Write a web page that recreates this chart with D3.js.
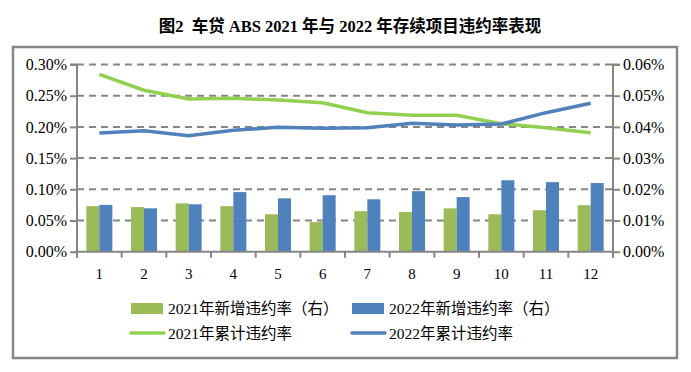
<!DOCTYPE html>
<html><head><meta charset="utf-8">
<script src="https://cdn.jsdelivr.net/npm/d3@7/dist/d3.min.js"></script>
<style>body{margin:0;background:#fff}</style>
</head><body>
<svg id="c" width="691" height="372"></svg>
<script>
const categories = ["1","2","3","4","5","6","7","8","9","10","11","12"];
// right axis (%): new default rate
const new2021 = [0.0146,0.0143,0.0155,0.0146,0.0120,0.0095,0.0130,0.0127,0.0139,0.0120,0.0133,0.0149];
const new2022 = [0.0150,0.0139,0.0152,0.0191,0.0171,0.0181,0.0168,0.0194,0.0175,0.0229,0.0223,0.0220];
// left axis (%): cumulative default rate
const cum2021 = [0.2843,0.2587,0.2447,0.2458,0.2431,0.2388,0.2228,0.2186,0.2186,0.2051,0.1987,0.1907];
const cum2022 = [0.1902,0.1939,0.1859,0.1946,0.1994,0.1978,0.1987,0.2058,0.2030,0.2046,0.2228,0.2378];
const leftTicks = [0,0.05,0.10,0.15,0.20,0.25,0.30];
const rightTicks = [0,0.01,0.02,0.03,0.04,0.05,0.06];
const legendItems = [
  {label:"2021年新增违约率（右）", type:"bar", color:"#9BBB59"},
  {label:"2022年新增违约率（右）", type:"bar", color:"#4F81BD"},
  {label:"2021年累计违约率", type:"line", color:"#92D050"},
  {label:"2022年累计违约率", type:"line", color:"#4F81BD"}
];
const title = "图2\u00A0\u00A0车贷 ABS 2021 年与 2022 年存续项目违约率表现";

const svg = d3.select("#c");
const font = "'Liberation Serif','Times New Roman','Noto Sans CJK SC',serif";
const grey = "#868686";
const L = 77, R = 613, T = 64.5, B = 251.7;

svg.append("text").attr("x",350).attr("y",32).attr("text-anchor","middle")
  .attr("font-family",font).attr("font-weight","bold").attr("font-size",16.5).text(title);

svg.append("rect").attr("x",13).attr("y",47).attr("width",664).attr("height",311)
  .attr("fill","none").attr("stroke",grey).attr("stroke-width",2.5);

const x = d3.scaleBand().domain(categories).range([L,R]);
const yL = d3.scaleLinear().domain([0,0.30]).range([B,T]);
const yR = d3.scaleLinear().domain([0,0.06]).range([B,T]);

// gridlines
svg.append("g").selectAll("line").data(leftTicks.filter(d=>d>0)).join("line")
  .attr("x1",L).attr("x2",R).attr("y1",d=>yL(d)).attr("y2",d=>yL(d))
  .attr("stroke",grey).attr("stroke-width",2).attr("stroke-dasharray","7,5");

// bars
const bw = 13;
svg.append("g").selectAll("rect").data(categories).join("rect")
  .attr("x",d=>x(d)+x.bandwidth()/2-bw).attr("width",bw)
  .attr("y",(d,i)=>yR(new2021[i])).attr("height",(d,i)=>B-yR(new2021[i])).attr("fill","#9BBB59");
svg.append("g").selectAll("rect").data(categories).join("rect")
  .attr("x",d=>x(d)+x.bandwidth()/2).attr("width",bw)
  .attr("y",(d,i)=>yR(new2022[i])).attr("height",(d,i)=>B-yR(new2022[i])).attr("fill","#4F81BD");

// axes
const axL = d3.axisLeft(yL).tickValues(leftTicks).tickFormat(d=>d.toFixed(2)+"%").tickSize(7).tickPadding(3);
const axR = d3.axisRight(yR).tickValues(rightTicks).tickFormat(d=>d.toFixed(2)+"%").tickSize(7).tickPadding(3);
const axB = d3.axisBottom(x).tickSize(0).tickPadding(17);
function style(g){
  g.select(".domain").attr("stroke",grey).attr("stroke-width",2);
  g.selectAll(".tick line").attr("stroke",grey).attr("stroke-width",2);
  g.selectAll("text").attr("font-family",font).attr("font-size",16).attr("fill","#000");
}
svg.append("g").attr("transform",`translate(${L},0)`).call(axL).call(style)
  .select(".domain").attr("d",`M-7,${T}H0V${B+6}`);
svg.append("g").attr("transform",`translate(${R},0)`).call(axR).call(style)
  .select(".domain").attr("d",`M7,${T}H0V${B+6}`);
const gb = svg.append("g").attr("transform",`translate(0,${B})`).call(axB).call(style);
gb.selectAll("text").attr("font-size",15);
gb.select(".domain").attr("d",`M${L},0H${R}`);
// category boundary ticks
svg.append("g").selectAll("line").data(d3.range(categories.length+1)).join("line")
  .attr("x1",i=>L+i*x.step()).attr("x2",i=>L+i*x.step()).attr("y1",B).attr("y2",B+6)
  .attr("stroke",grey).attr("stroke-width",2);

// lines
const line = arr => d3.line().x((d,i)=>x(categories[i])+x.bandwidth()/2).y(d=>yL(d))(arr);
svg.append("path").attr("d",line(cum2021)).attr("fill","none").attr("stroke","#92D050").attr("stroke-width",3.5);
svg.append("path").attr("d",line(cum2022)).attr("fill","none").attr("stroke","#4F81BD").attr("stroke-width",3.5);

// legend
const lx = [131,352], ly = [308.5,333];
legendItems.forEach((it,k)=>{
  const cx = lx[k%2], cy = ly[Math.floor(k/2)];
  if(it.type==="bar") svg.append("rect").attr("x",cx).attr("y",cy-5.5).attr("width",32).attr("height",11).attr("fill",it.color);
  else svg.append("line").attr("x1",cx).attr("x2",cx+33).attr("y1",cy).attr("y2",cy).attr("stroke",it.color).attr("stroke-width",3.5).attr("stroke-linecap","round");
  svg.append("text").attr("x",cx+37).attr("y",cy+5.5).attr("font-family",font).attr("font-size",15.5).text(it.label);
});
</script>
</body></html>
